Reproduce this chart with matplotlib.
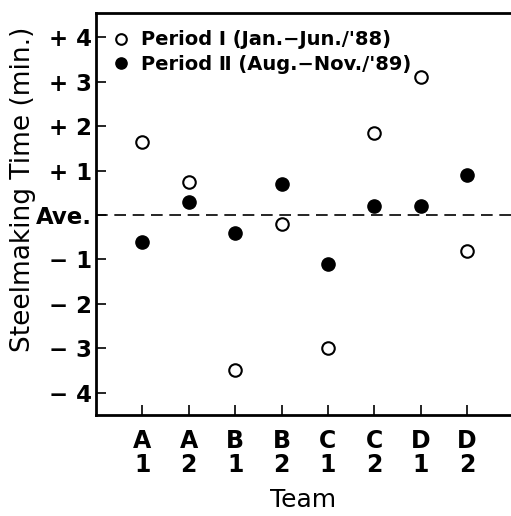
import numpy as np
import matplotlib
matplotlib.use('Agg')
import matplotlib.pyplot as plt

# data (deviation from average, minutes)
teams = ['A\n1', 'A\n2', 'B\n1', 'B\n2', 'C\n1', 'C\n2', 'D\n1', 'D\n2']
period1 = [1.65, 0.75, -3.5, -0.2, -3.0, 1.85, 3.1, -0.8]
period2 = [-0.6, 0.3, -0.4, 0.7, -1.1, 0.2, 0.2, 0.9]
ytick_vals = [4, 3, 2, 1, 0, -1, -2, -3, -4]
ytick_labels = ['+ 4', '+ 3', '+ 2', '+ 1', 'Ave.', '\u2212 1', '\u2212 2', '\u2212 3', '\u2212 4']

plt.rcParams['font.family'] = ['DejaVu Sans']

fig = plt.figure(figsize=(5.11, 5.16), dpi=100)
ax = fig.add_axes([0.188, 0.196, 0.812, 0.779])

x = np.arange(len(teams))
ax.plot(x, period1, 'o', mfc='white', mec='black', mew=1.5, ms=9,
        label='Period \u2160 (Jan.\u2212Jun./\'88)', linestyle='none')
ax.plot(x, period2, 'o', mfc='black', mec='black', ms=9.5,
        label='Period \u2161 (Aug.\u2212Nov./\'89)', linestyle='none')

ax.axhline(0, color='black', linestyle=(0, (7, 4)), linewidth=1.2)

ax.set_xlim(-1.0, 7.95)
ax.set_ylim(-4.5, 4.55)
ax.set_xticks(x)
ax.set_xticklabels(teams, fontsize=17, linespacing=1.0, fontweight='bold')
ax.set_yticks(ytick_vals)
ax.set_yticklabels(ytick_labels, fontsize=16.5, fontweight='bold')
ax.tick_params(direction='in', length=7, width=1.2, pad=3)
ax.tick_params(axis='x', pad=10)

for s in ['left', 'bottom', 'top']:
    ax.spines[s].set_linewidth(2)
ax.spines['right'].set_visible(False)

ax.set_xlabel('Team', fontsize=18, labelpad=8)
ax.set_ylabel('Steelmaking Time (min.)', fontsize=19)
ax.yaxis.set_label_coords(-0.145, 0.562)

ax.legend(loc='upper left', frameon=False, prop={'size': 14, 'weight': 'bold'},
          handletextpad=0.6, borderaxespad=0.6, labelspacing=0.3, borderpad=0.3,
          markerscale=0.85, handlelength=0.8)

fig.savefig('out.png', dpi=100)
